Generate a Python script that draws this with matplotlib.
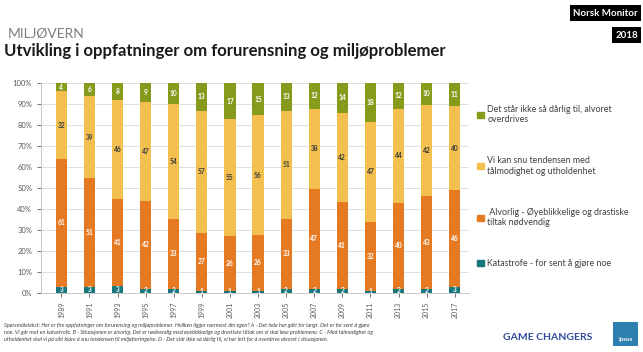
import numpy as np
import matplotlib.pyplot as plt
from matplotlib.patches import Rectangle, Patch

years = ['1989', '1991', '1993', '1995', '1997', '1999', '2001', '2003',
         '2005', '2007', '2009', '2011', '2013', '2015', '2017']
katastrofe = [3, 3, 3, 2, 2, 1, 1, 1, 2, 2, 2, 1, 2, 2, 3]
alvorlig = [61, 51, 41, 42, 33, 27, 26, 26, 33, 47, 41, 32, 40, 43, 46]
snu = [32, 39, 46, 47, 54, 57, 55, 56, 51, 38, 42, 47, 44, 42, 40]
overdrives = [4, 6, 8, 9, 10, 13, 17, 15, 13, 12, 14, 18, 12, 10, 11]

labels = ['Katastrofe - for sent å gjøre noe',
          ' Alvorlig - Øyeblikkelige og drastiske\ntiltak nødvendig',
          'Vi kan snu tendensen med\ntålmodighet og utholdenhet',
          'Det står ikke så dårlig til, alvoret\noverdrives']
colors = ['#17777d', '#e67a23', '#f3c04f', '#869a1c']
text_colors = ['white', 'white', '#3a3a3a', 'white']

series = np.array([katastrofe, alvorlig, snu, overdrives], dtype=float)
shares = series / series.sum(axis=0) * 100

plt.rcParams['font.family'] = ['Lato', 'DejaVu Sans']

fig = plt.figure(figsize=(6.43, 3.52), dpi=100)
ax = fig.add_axes([0.064, 0.168, 0.665, 0.596])

x = np.arange(len(years))
bottom = np.zeros(len(years))
for vals, raw, col, tc in zip(shares, series, colors, text_colors):
    ax.bar(x, vals, bottom=bottom, width=0.4, color=col, zorder=2)
    for xi, b, v, r in zip(x, bottom, vals, raw):
        ax.text(xi, b + v / 2, f'{int(r)}', ha='center', va='center',
                fontsize=4.8, fontweight='bold', color=tc, zorder=3)
    bottom += vals

ax.set_xlim(-0.72, len(years) - 0.5)
ax.set_ylim(0, 100)
ax.set_yticks(range(0, 101, 10))
ax.set_yticklabels([f'{v}%' for v in range(0, 101, 10)])
ax.set_xticks(x)
ax.set_xticklabels(years, rotation=90)
ax.tick_params(axis='y', labelsize=5.5, colors='#595959', length=3, width=0.6)
ax.tick_params(axis='x', labelsize=5, colors='#595959', length=3, width=0.6)
ax.yaxis.grid(True, color='#d9d9d9', linewidth=0.6, zorder=0)
for s in ['top', 'right']:
    ax.spines[s].set_visible(False)
for s in ['left', 'bottom']:
    ax.spines[s].set_color('#bfbfbf')
    ax.spines[s].set_linewidth(0.6)

handles = [Patch(color=c) for c in colors]
fig.legend(handles[::-1], labels[::-1], loc='upper left',
           bbox_to_anchor=(0.73, 0.725), frameon=False, fontsize=6.4,
           handlelength=0.7, handleheight=0.7, handletextpad=0.4,
           labelspacing=3.6, labelcolor='#404040')

fig.text(0.012, 0.905, 'MILJØVERN', fontsize=10, color='#7f7f7f', va='center')
fig.text(0.006, 0.855, 'Utvikling i oppfatninger om forurensning og miljøproblemer',
         fontsize=12.1, fontweight='bold', color='#1a1a1a', va='center')

fig.text(0.992, 0.962, 'Norsk Monitor', fontsize=7, fontweight='bold', color='white',
         ha='right', va='center',
         bbox=dict(boxstyle='square,pad=0.35', fc='black', ec='none'))
fig.text(0.992, 0.9, '2018', fontsize=7, fontweight='bold', color='white',
         ha='right', va='center',
         bbox=dict(boxstyle='square,pad=0.35', fc='black', ec='none'))

note = ('Spørsmålstekst: Her er fire oppfatninger om forurensing og miljøproblemer. Hvilken ligger nærmest din egen? A - Det hele har gått for langt. Det er for sent å gjøre\n'
        'noe. Vi går mot en katastrofe. B - Situasjonen er alvorlig. Det er nødvendig med øyeblikkelige og drastiske tiltak om vi skal løse problemene. C - Med tålmodighet og\n'
        'utholdenhet skal vi på sikt klare å snu tendensen til miljøforringelse. D - Det står ikke så dårlig til, vi har lett for å overdrive alvoret i situasjonen.')
fig.text(0.006, 0.055, note, fontsize=4.0, style='italic', color='#404040',
         va='center', linespacing=1.45)

fig.text(0.783, 0.04, 'GAME CHANGERS', fontsize=7.5, fontweight='bold',
         color='#2f4b9a', va='center')
fig.patches.append(Rectangle((0.953, 0.017), 0.039, 0.068, transform=fig.transFigure,
                             fc='#2d7fb0', ec='none'))
fig.text(0.9725, 0.035, 'Ipsos', fontsize=4.5, fontweight='bold', color='white',
         ha='center', va='center')

fig.savefig('out.png', dpi=100)
